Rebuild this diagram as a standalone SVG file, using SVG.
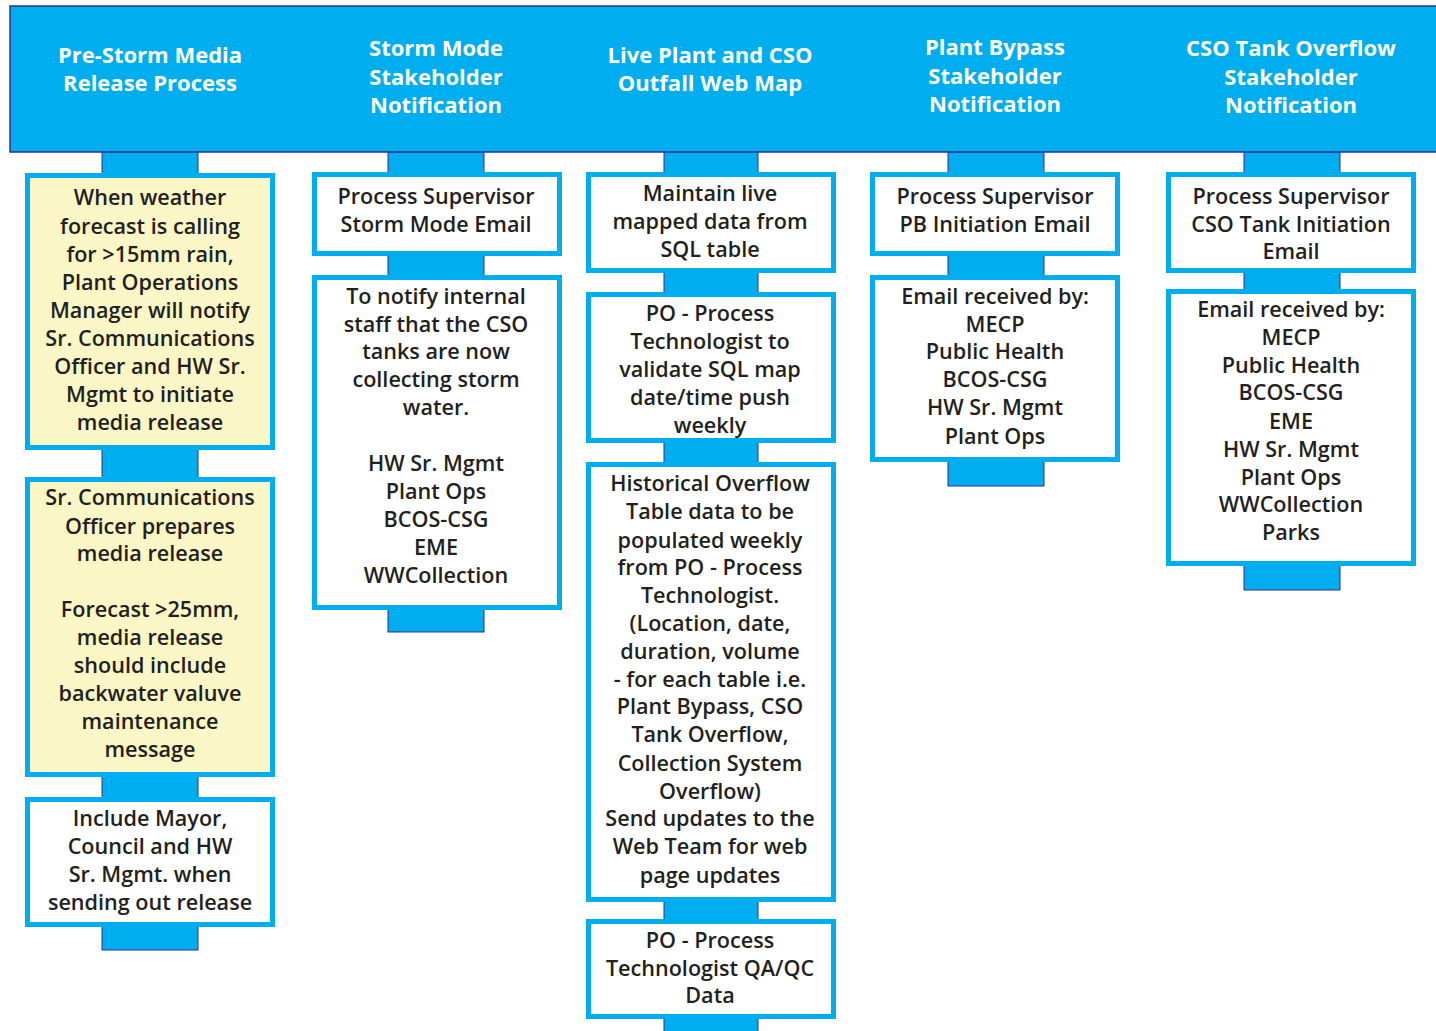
<svg xmlns="http://www.w3.org/2000/svg" width="1436" height="1031" viewBox="0 0 1436 1031">
<style>
.hdr{fill:#00AEEF;stroke:#2E3192;stroke-width:1.5}
.conn{fill:#00AEEF;stroke:#2E3192;stroke-width:1}
.box{fill:#FFFFFF;stroke:#00AEEF;stroke-width:5}
.ybox{fill:#FBF6C6;stroke:#00AEEF;stroke-width:5}
text{font-family:"Open Sans","Liberation Sans",sans-serif;text-anchor:middle}
.ht{fill:#FFFFFF;font-size:22px;font-weight:700}
.bt{fill:#231F20;font-size:21.6px;font-weight:600}
</style>
<rect x="0" y="0" width="1436" height="1031" fill="#FFFFFF"/>
<g id="connectors">
<rect class="conn" x="102" y="150" width="96" height="26"/>
<rect class="conn" x="102" y="447" width="96" height="33"/>
<rect class="conn" x="102" y="774" width="96" height="26"/>
<rect class="conn" x="102" y="924" width="96" height="26"/>
<rect class="conn" x="388" y="150" width="96" height="26"/>
<rect class="conn" x="388" y="253" width="96" height="25"/>
<rect class="conn" x="388" y="607" width="96" height="25"/>
<rect class="conn" x="664" y="150" width="94" height="26"/>
<rect class="conn" x="664" y="270" width="94" height="25"/>
<rect class="conn" x="664" y="440" width="94" height="25"/>
<rect class="conn" x="664" y="899" width="94" height="23"/>
<rect class="conn" x="664" y="1016" width="94" height="20"/>
<rect class="conn" x="948" y="150" width="96" height="26"/>
<rect class="conn" x="948" y="253" width="96" height="25"/>
<rect class="conn" x="948" y="459" width="96" height="27"/>
<rect class="conn" x="1244" y="150" width="96" height="26"/>
<rect class="conn" x="1244" y="270" width="96" height="22"/>
<rect class="conn" x="1244" y="563" width="96" height="27"/>
</g>
<g id="header">
<rect class="hdr" x="10" y="6" width="1440" height="146"/>
</g>
<g id="h1"><text class="ht" x="150" y="63">Pre-Storm Media</text><text class="ht" x="150" y="91">Release Process</text></g>
<g id="h2"><text class="ht" x="436" y="56">Storm Mode</text><text class="ht" x="436" y="85">Stakeholder</text><text class="ht" x="436" y="113">Notification</text></g>
<g id="h3"><text class="ht" x="710" y="63">Live Plant and CSO</text><text class="ht" x="710" y="91">Outfall Web Map</text></g>
<g id="h4"><text class="ht" x="995" y="55">Plant Bypass</text><text class="ht" x="995" y="84">Stakeholder</text><text class="ht" x="995" y="112">Notification</text></g>
<g id="h5"><text class="ht" x="1291" y="56">CSO Tank Overflow</text><text class="ht" x="1291" y="85">Stakeholder</text><text class="ht" x="1291" y="113">Notification</text></g>

<g id="c1b1"><rect class="ybox" x="27.5" y="175.5" width="245" height="272"/>
<text class="bt" x="150" y="205">When weather</text><text class="bt" x="150" y="234">forecast is calling</text><text class="bt" x="150" y="262">for &gt;15mm rain,</text><text class="bt" x="150" y="290">Plant Operations</text><text class="bt" x="150" y="318">Manager will notify</text><text class="bt" x="150" y="346">Sr. Communications</text><text class="bt" x="150" y="374">Officer and HW Sr.</text><text class="bt" x="150" y="402">Mgmt to initiate</text><text class="bt" x="150" y="430">media release</text></g>
<g id="c1b2"><rect class="ybox" x="27.5" y="479.5" width="245" height="295"/>
<text class="bt" x="150" y="505">Sr. Communications</text><text class="bt" x="150" y="534">Officer prepares</text><text class="bt" x="150" y="561">media release</text><text class="bt" x="150" y="617">Forecast &gt;25mm,</text><text class="bt" x="150" y="645">media release</text><text class="bt" x="150" y="673">should include</text><text class="bt" x="150" y="701">backwater valuve</text><text class="bt" x="150" y="729">maintenance</text><text class="bt" x="150" y="757">message</text></g>
<g id="c1b3"><rect class="box" x="27.5" y="799.5" width="245" height="125"/>
<text class="bt" x="150" y="826">Include Mayor,</text><text class="bt" x="150" y="854">Council and HW</text><text class="bt" x="150" y="882">Sr. Mgmt. when</text><text class="bt" x="150" y="910">sending out release</text></g>

<g id="c2b1"><rect class="box" x="314.5" y="174.5" width="245" height="79"/>
<text class="bt" x="436" y="204">Process Supervisor</text><text class="bt" x="436" y="232">Storm Mode Email</text></g>
<g id="c2b2"><rect class="box" x="314.5" y="277.5" width="245" height="330"/>
<text class="bt" x="436" y="304">To notify internal</text><text class="bt" x="436" y="332">staff that the CSO</text><text class="bt" x="436" y="359">tanks are now</text><text class="bt" x="436" y="387">collecting storm</text><text class="bt" x="436" y="415">water.</text><text class="bt" x="436" y="471">HW Sr. Mgmt</text><text class="bt" x="436" y="499">Plant Ops</text><text class="bt" x="436" y="527">BCOS-CSG</text><text class="bt" x="436" y="555">EME</text><text class="bt" x="436" y="583">WWCollection</text></g>

<g id="c3b1"><rect class="box" x="588.5" y="174.5" width="245" height="96"/>
<text class="bt" x="710" y="201">Maintain live</text><text class="bt" x="710" y="229">mapped data from</text><text class="bt" x="710" y="257">SQL table</text></g>
<g id="c3b2"><rect class="box" x="588.5" y="294.5" width="245" height="146"/>
<text class="bt" x="710" y="321">PO - Process</text><text class="bt" x="710" y="349">Technologist to</text><text class="bt" x="710" y="377">validate SQL map</text><text class="bt" x="710" y="405">date/time push</text><text class="bt" x="710" y="433">weekly</text></g>
<g id="c3b3"><rect class="box" x="588.5" y="464.5" width="245" height="435"/>
<text class="bt" x="710" y="491">Historical Overflow</text><text class="bt" x="710" y="519">Table data to be</text><text class="bt" x="710" y="548">populated weekly</text><text class="bt" x="710" y="575">from PO - Process</text><text class="bt" x="710" y="603">Technologist.</text><text class="bt" x="710" y="631">(Location, date,</text><text class="bt" x="710" y="659">duration, volume</text><text class="bt" x="710" y="687">- for each table i.e.</text><text class="bt" x="710" y="714">Plant Bypass, CSO</text><text class="bt" x="710" y="742">Tank Overflow,</text><text class="bt" x="710" y="771">Collection System</text><text class="bt" x="710" y="799">Overflow)</text><text class="bt" x="710" y="826">Send updates to the</text><text class="bt" x="710" y="854">Web Team for web</text><text class="bt" x="710" y="883">page updates</text></g>
<g id="c3b4"><rect class="box" x="588.5" y="921.5" width="245" height="95"/>
<text class="bt" x="710" y="948">PO - Process</text><text class="bt" x="710" y="976">Technologist QA/QC</text><text class="bt" x="710" y="1003">Data</text></g>

<g id="c4b1"><rect class="box" x="872.5" y="174.5" width="245" height="79"/>
<text class="bt" x="995" y="204">Process Supervisor</text><text class="bt" x="995" y="232">PB Initiation Email</text></g>
<g id="c4b2"><rect class="box" x="872.5" y="277.5" width="245" height="182"/>
<text class="bt" x="995" y="304">Email received by:</text><text class="bt" x="995" y="332">MECP</text><text class="bt" x="995" y="359">Public Health</text><text class="bt" x="995" y="387">BCOS-CSG</text><text class="bt" x="995" y="415">HW Sr. Mgmt</text><text class="bt" x="995" y="444">Plant Ops</text></g>

<g id="c5b1"><rect class="box" x="1168.5" y="174.5" width="245" height="96"/>
<text class="bt" x="1291" y="204">Process Supervisor</text><text class="bt" x="1291" y="232">CSO Tank Initiation</text><text class="bt" x="1291" y="259">Email</text></g>
<g id="c5b2"><rect class="box" x="1168.5" y="291.5" width="245" height="272"/>
<text class="bt" x="1291" y="317">Email received by:</text><text class="bt" x="1291" y="345">MECP</text><text class="bt" x="1291" y="373">Public Health</text><text class="bt" x="1291" y="400">BCOS-CSG</text><text class="bt" x="1291" y="429">EME</text><text class="bt" x="1291" y="457">HW Sr. Mgmt</text><text class="bt" x="1291" y="485">Plant Ops</text><text class="bt" x="1291" y="512">WWCollection</text><text class="bt" x="1291" y="540">Parks</text></g>
</svg>
